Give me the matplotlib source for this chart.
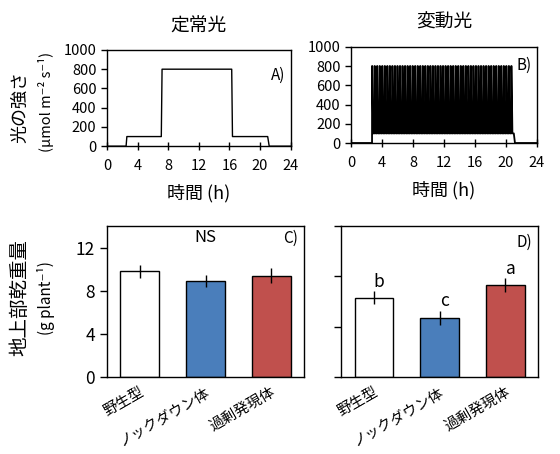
import numpy as np
import matplotlib
matplotlib.use("Agg")
import matplotlib.pyplot as plt
from matplotlib.transforms import ScaledTranslation

plt.rcParams['font.family'] = ['Noto Sans CJK JP', 'DejaVu Sans']

# Light program, constant light (A)
const_time = [0, 2.5, 2.6, 7.1, 7.2, 16.3, 16.4, 21.0, 21.2, 24]
const_ppfd = [0, 0, 100, 100, 800, 800, 100, 100, 0, 0]

# Light program, fluctuating light (B)
fluct_start = 2.7
fluct_end = 21.0
fluct_cycles = 56
fluct_low = 100
fluct_high = 800

# Shoot dry weight (C: constant, D: fluctuating)
lines = ["野生型", "ノックダウン体", "過剰発現体"]
dw_const = [9.8, 8.9, 9.4]
err_const = [0.6, 0.6, 0.7]
dw_fluct = [6.3, 4.7, 7.3]
err_fluct = [0.5, 0.55, 0.55]
letters_fluct = ["b", "c", "a"]
bar_colors = ["white", "#4a7ebb", "#c0504d"]


def fluct_series():
    # square wave of the fluctuating light program
    edges = np.linspace(fluct_start, fluct_end, fluct_cycles + 1)
    t = [0, fluct_start]
    v = [0, 0]
    for i in range(fluct_cycles):
        a, b = edges[i], edges[i + 1]
        d = b - a
        t += [a, a + 0.1 * d, a + 0.45 * d, b]
        v += [fluct_high, fluct_high, fluct_low, fluct_low]
    t += [fluct_end + 0.15, 24]
    v += [0, 0]
    return t, v


def style_light(ax, label, label_y):
    ax.set_xlim(0, 24)
    ax.set_ylim(0, 1000)
    ax.set_xticks(range(0, 25, 4))
    ax.set_yticks(range(0, 1001, 200))
    ax.tick_params(labelsize=10.5, length=4, width=1)
    ax.tick_params(axis='x', direction='inout', length=6, pad=6)
    ax.tick_params(axis='y', direction='out')
    ax.set_xlabel("時間 (h)", fontsize=13, labelpad=8)
    ax.text(0.97, label_y, label, transform=ax.transAxes, ha='right',
            va='center', fontsize=11)


def style_bar(ax, ymax):
    ax.set_xlim(-0.5, 2.5)
    ax.set_ylim(0, ymax)
    ax.set_yticks([0, 4, 8, 12])
    ax.set_xticks(range(3))
    ax.set_xticklabels(lines, rotation=30, ha='right', rotation_mode='anchor',
                       fontsize=10.5)
    shift = ScaledTranslation(9 / 72, 0, fig.dpi_scale_trans)
    for lab in ax.get_xticklabels():
        lab.set_transform(lab.get_transform() + shift)
    ax.tick_params(axis='x', length=0, pad=6)
    ax.tick_params(axis='y', labelsize=12.5, direction='out', length=5, width=1)


fig = plt.figure(figsize=(5.6, 4.54), dpi=100)
axA = fig.add_axes([0.191, 0.678, 0.328, 0.212])
axB = fig.add_axes([0.627, 0.685, 0.332, 0.212])
axC = fig.add_axes([0.191, 0.170, 0.352, 0.332])
axD = fig.add_axes([0.609, 0.170, 0.352, 0.332])

for ax in (axA, axB, axC, axD):
    for s in ax.spines.values():
        s.set_linewidth(1.0)

axA.plot(const_time, const_ppfd, color='black', lw=1.0)
style_light(axA, "A)", 0.74)
axA.set_title("定常光", fontsize=13.5, pad=13)

ft, fv = fluct_series()
axB.plot(ft, fv, color='black', lw=1.3)
style_light(axB, "B)", 0.81)
axB.set_title("変動光", fontsize=13.5, pad=14)

x = np.arange(3)
axC.bar(x, dw_const, width=0.59, color=bar_colors, edgecolor='black', lw=1.0)
axC.errorbar(x, dw_const, yerr=err_const, fmt='none', ecolor='black', elinewidth=1)
style_bar(axC, 14)
axC.text(1.0, 12.9, "NS", ha='center', va='center', fontsize=12)
axC.text(0.97, 0.92, "C)", transform=axC.transAxes, ha='right', va='center',
         fontsize=11)

axD.bar(x, dw_fluct, width=0.59, color=bar_colors, edgecolor='black', lw=1.0)
axD.errorbar(x, dw_fluct, yerr=err_fluct, fmt='none', ecolor='black', elinewidth=1)
style_bar(axD, 12)
axD.set_yticklabels([])
for xi, yi, ei, lt in zip(x, dw_fluct, err_fluct, letters_fluct):
    axD.text(xi + 0.08, yi + ei + 0.75, lt, ha='center', va='center', fontsize=12.5)
axD.text(0.97, 0.89, "D)", transform=axD.transAxes, ha='right', va='center',
         fontsize=11)

# y labels as two lines of different size
fig.text(0.036, 0.764, "光の強さ", rotation=90, ha='center', va='center',
         fontsize=13)
fig.text(0.082, 0.775, "(µmol m⁻² s⁻¹)", rotation=90, ha='center', va='center',
         fontsize=10.5)
fig.text(0.036, 0.344, "地上部乾重量", rotation=90, ha='center', va='center',
         fontsize=14)
fig.text(0.082, 0.344, "(g plant⁻¹)", rotation=90, ha='center', va='center',
         fontsize=11)

fig.savefig("out.png", dpi=100)
